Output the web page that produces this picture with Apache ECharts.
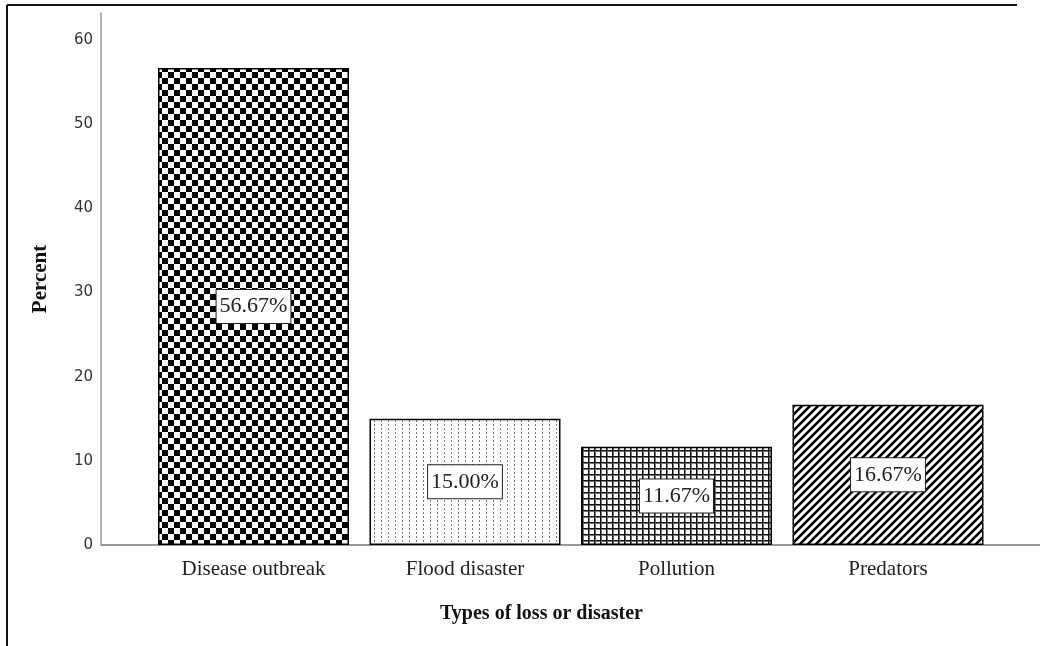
<!DOCTYPE html>
<html><head><meta charset="utf-8">
<script src="https://cdn.jsdelivr.net/npm/echarts@6/dist/echarts.min.js"></script>
<style>html,body{margin:0;padding:0;background:#fff}#c{width:1040px;height:646px}</style>
</head><body><div id="c"></div>
<script>
const categories = ['Disease outbreak', 'Flood disaster', 'Pollution', 'Predators'];
const percentValues = [56.67, 15.00, 11.67, 16.67];
const yTicks = [0, 10, 20, 30, 40, 50, 60];

function mk(w, h, draw) {
  const c = document.createElement('canvas');
  c.width = w; c.height = h;
  const g = c.getContext('2d');
  g.fillStyle = '#fff'; g.fillRect(0, 0, w, h);
  draw(g);
  return c;
}
const checker = mk(12, 12, g => { g.fillStyle = '#000'; g.fillRect(0, 0, 6, 6); g.fillRect(6, 6, 6, 6); });
const dotted = mk(7, 4, g => { g.fillStyle = '#777'; g.fillRect(3, 0, 1, 2); });
const gridP = mk(6, 6, g => { g.fillStyle = '#111'; g.fillRect(0, 0, 1, 6); g.fillRect(0, 0, 6, 1); g.fillStyle = '#777'; g.fillRect(1, 1, 1, 5); g.fillRect(1, 1, 5, 1); });
const diag = mk(8, 8, g => {
  g.strokeStyle = '#000'; g.lineWidth = 2.6; g.lineCap = 'square';
  g.beginPath();
  g.moveTo(0, 8); g.lineTo(8, 0);
  g.moveTo(-2, 2); g.lineTo(2, -2);
  g.moveTo(6, 10); g.lineTo(10, 6);
  g.stroke();
});
const patterns = [checker, dotted, gridP, diag];

const chart = echarts.init(document.getElementById('c'), null, { renderer: 'canvas' });
const serif = '"Liberation Serif","Times New Roman",serif';
chart.setOption({
  animation: false,
  grid: { left: 147.75, right: 46.25, top: 13, bottom: 101 },
  xAxis: {
    type: 'category', data: categories,
    axisLine: { show: false }, axisTick: { show: false },
    axisLabel: { fontFamily: serif, fontSize: 21, color: '#222', margin: 14 }
  },
  yAxis: {
    type: 'value', min: 0, max: 63.2, interval: 10, offset: 46.75,
    name: 'Percent', nameLocation: 'middle', nameGap: 50,
    nameTextStyle: { fontFamily: serif, fontSize: 21, fontWeight: 'bold', color: '#111' },
    axisLine: { show: true, lineStyle: { color: '#999', width: 1.5 } },
    axisTick: { show: false }, splitLine: { show: false },
    axisLabel: {
      showMaxLabel: false, fontFamily: '"DejaVu Sans",sans-serif', fontSize: 15, color: '#333', margin: 8,
      padding: [3, 0, 0, 0],
      formatter: v => yTicks.includes(v) ? String(v) : ''
    }
  },
  series: [{
    type: 'bar', barCategoryGap: '9.7%',
    data: percentValues.map((v, i) => ({
      value: v,
      itemStyle: { color: { image: patterns[i], repeat: 'repeat' }, borderColor: '#000', borderWidth: 1.5 }
    })),
    label: {
      show: true, position: 'inside', formatter: p => p.value.toFixed(2) + '%',
      fontFamily: serif, fontSize: 22, color: '#222',
      backgroundColor: '#fff', borderColor: '#222', borderWidth: 1, padding: [6, 3, 5, 3]
    }
  }],
  graphic: [
    { type: 'line', shape: { x1: 101, y1: 545, x2: 1040, y2: 545 }, style: { stroke: '#999', lineWidth: 2 }, z: 0 },
    { type: 'line', shape: { x1: 7, y1: 5, x2: 1017, y2: 5 }, style: { stroke: '#111', lineWidth: 2 } },
    { type: 'line', shape: { x1: 7, y1: 5, x2: 7, y2: 646 }, style: { stroke: '#111', lineWidth: 2 } },
    { type: 'text', left: 440, top: 604, style: { text: 'Types of loss or disaster', font: 'bold 20px ' + serif, fill: '#111' } }
  ]
});
</script></body></html>
